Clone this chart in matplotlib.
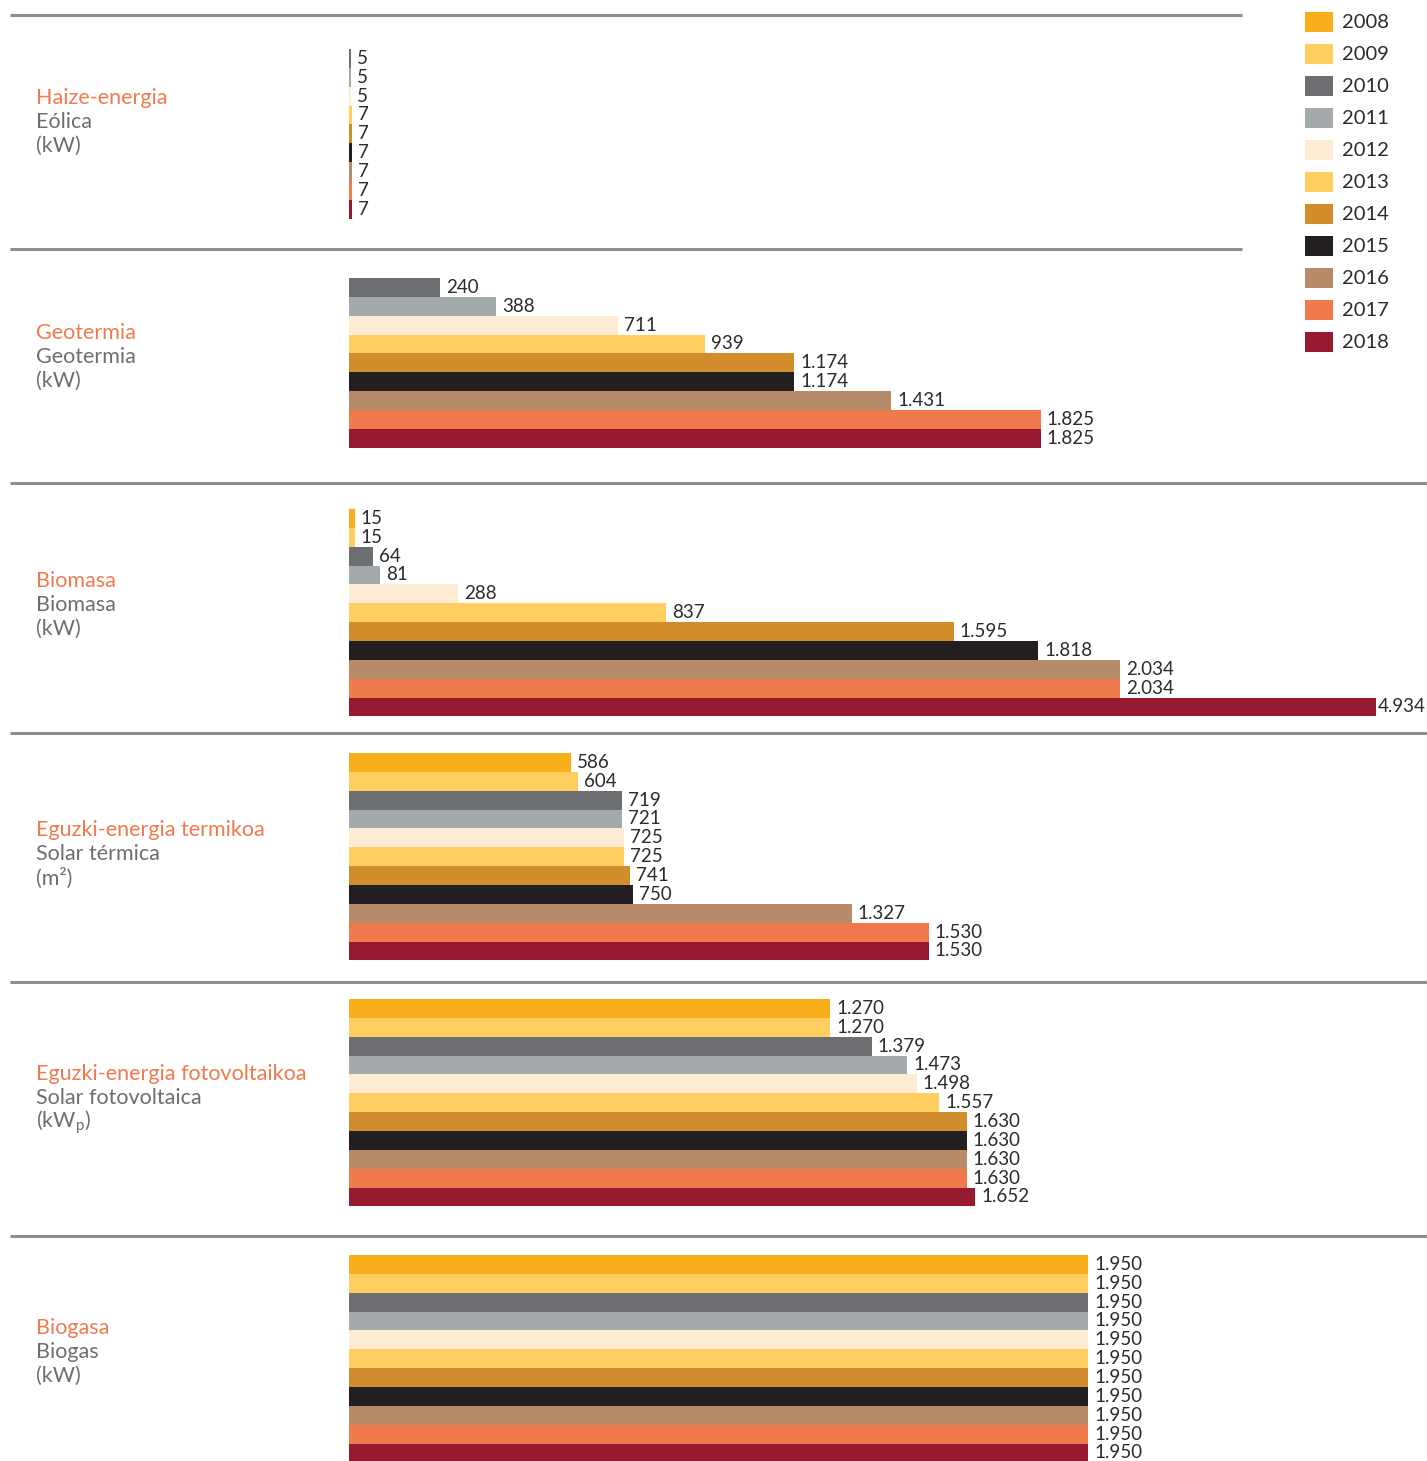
import matplotlib.pyplot as plt
from matplotlib.patches import Rectangle

plt.rcParams['font.family'] = ['Lato', 'DejaVu Sans']
plt.rcParams['mathtext.fontset'] = 'custom'
plt.rcParams['mathtext.rm'] = 'Lato'

years = ['2008', '2009', '2010', '2011', '2012', '2013',
         '2014', '2015', '2016', '2017', '2018']
colors = ['#F9AE1B', '#FECF60', '#6D6E71', '#A4AAAC', '#FDEBD3', '#FECF60',
          '#D18C2C', '#231F20', '#B78A69', '#EF7B4D', '#981A30']

names_eu = ['Haize-energia', 'Geotermia', 'Biomasa', 'Eguzki-energia termikoa',
            'Eguzki-energia fotovoltaikoa', 'Biogasa']
names_es = ['Eólica', 'Geotermia', 'Biomasa', 'Solar térmica',
            'Solar fotovoltaica', 'Biogas']
units = ['(kW)', '(kW)', '(kW)', '(m²)', '(kW$_{\\mathrm{p}}$)', '(kW)']

# wind and geothermal start in 2010, the rest in 2008
haize = [5, 5, 5, 7, 7, 7, 7, 7, 7]
geotermia = [240, 388, 711, 939, 1174, 1174, 1431, 1825, 1825]
biomasa = [15, 15, 64, 81, 288, 837, 1595, 1818, 2034, 2034, 4934]
solar_termica = [586, 604, 719, 721, 725, 725, 741, 750, 1327, 1530, 1530]
fotovoltaica = [1270, 1270, 1379, 1473, 1498, 1557, 1630, 1630, 1630, 1630, 1652]
biogas = [1950, 1950, 1950, 1950, 1950, 1950, 1950, 1950, 1950, 1950, 1950]

series = [haize, geotermia, biomasa, solar_termica, fotovoltaica, biogas]

# layout in pixels
W, H = 1427, 1461
group_top = [49, 278, 509, 753, 999, 1255]
label_mid = [122, 357, 605, 854, 1098, 1352]
rule_y = [15, 249, 483, 733, 982, 1236]
rule_x1 = [1242, 1242, W, W, W, W]
bar_h = 18.85
px_per_unit = 0.379
x0, x1 = 349, 1376

grey_txt = '#6D6E71'
orange_txt = '#EF7B4D'
val_txt = '#2B2B2B'

fig = plt.figure(figsize=(W / 100, H / 100), dpi=100)

ax = fig.add_axes([x0 / W, 0, (x1 - x0) / W, 1])
ax.set_xlim(0, (x1 - x0) / px_per_unit)
ax.set_ylim(H, 0)
ax.axis('off')

xmax = ax.get_xlim()[1]
for g, vals in enumerate(series):
    cols = colors[len(colors) - len(vals):]
    ys = [group_top[g] + i * bar_h for i in range(len(vals))]
    ax.barh(ys, vals, height=bar_h, align='edge', color=cols, linewidth=0)
    for y, v in zip(ys, vals):
        ax.annotate(f'{v:,}'.replace(',', '.'), (min(v, xmax), y + bar_h / 2),
                    xytext=(6 if v < xmax else 2, 0), textcoords='offset pixels',
                    ha='left', va='center', fontsize=13.5, color=val_txt,
                    annotation_clip=False)

# overlay in pixel units for rules, group names and legend
ov = fig.add_axes([0, 0, 1, 1])
ov.set_xlim(0, W)
ov.set_ylim(H, 0)
ov.axis('off')

for y, xe in zip(rule_y, rule_x1):
    ov.plot([10, xe], [y, y], color='#8C8E90', lw=2.2, solid_capstyle='butt')

for g in range(len(series)):
    mid = label_mid[g]
    ov.text(36, mid - 24, names_eu[g], fontsize=15.5, color=orange_txt, va='center')
    ov.text(36, mid, names_es[g], fontsize=15.5, color=grey_txt, va='center')
    ov.text(36, mid + 24, units[g], fontsize=15.5, color=grey_txt, va='center')

for i, (yr, c) in enumerate(zip(years, colors)):
    ov.add_patch(Rectangle((1305, 12 + 32 * i), 28, 20, color=c, lw=0))
    ov.text(1342, 22 + 32 * i, yr, fontsize=14.5, color=val_txt, va='center')

fig.savefig('out.png', dpi=100)
